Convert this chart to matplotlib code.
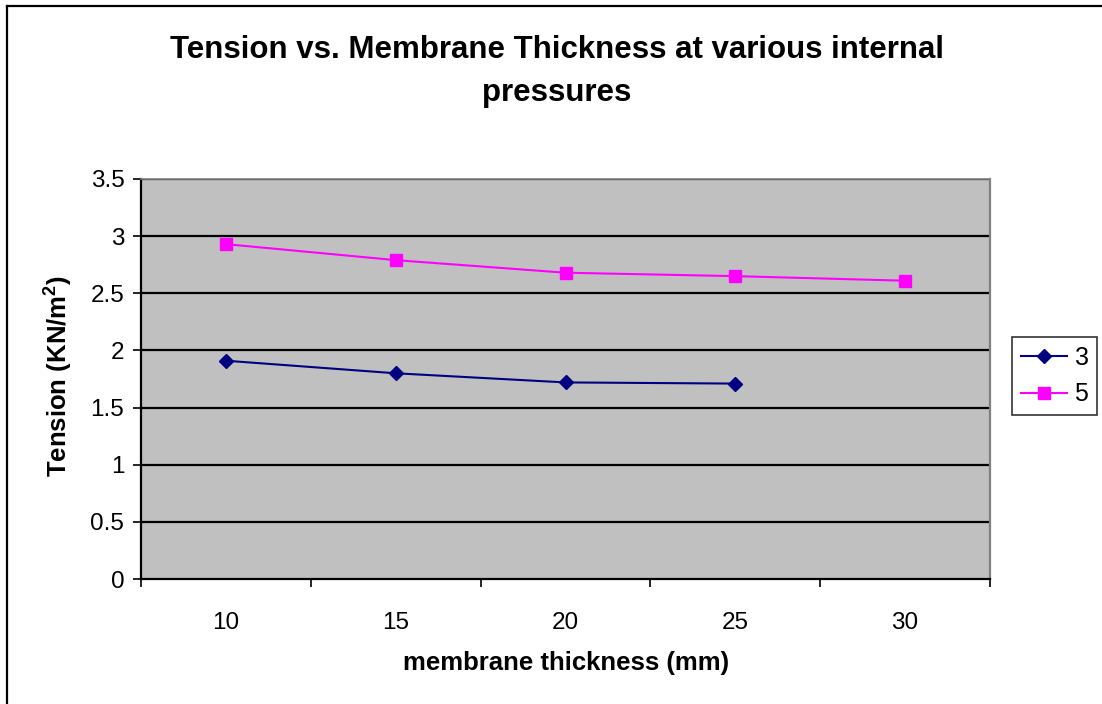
import matplotlib
matplotlib.use("Agg")
import matplotlib.pyplot as plt
from matplotlib.lines import Line2D

plt.rcParams['font.family'] = ['Liberation Sans', 'DejaVu Sans']
plt.rcParams['mathtext.fontset'] = 'custom'
plt.rcParams['mathtext.rm'] = 'Liberation Sans'
plt.rcParams['mathtext.bf'] = 'Liberation Sans:bold'

categories = ["10", "15", "20", "25", "30"]
series_names = ["3", "5"]
values_3 = [1.91, 1.80, 1.72, 1.71]
values_5 = [2.93, 2.79, 2.68, 2.65, 2.61]
y_ticks = [0, 0.5, 1, 1.5, 2, 2.5, 3, 3.5]
y_tick_labels = ["0", "0.5", "1", "1.5", "2", "2.5", "3", "3.5"]

W, H = 1102, 704
fig = plt.figure(figsize=(W / 100, H / 100), dpi=100)
fig.patch.set_facecolor('white')

# outer chart border (left and top visible)
fig.add_artist(Line2D([7 / W, 7 / W], [0, 1 - 6 / H], transform=fig.transFigure, color='black', lw=1.6))
fig.add_artist(Line2D([7 / W, 1], [1 - 6 / H, 1 - 6 / H], transform=fig.transFigure, color='black', lw=1.6))

ax = fig.add_axes([141 / W, 1 - 579 / H, (990 - 141) / W, 400 / H])
ax.set_facecolor('#C0C0C0')

x3 = list(range(len(values_3)))
x5 = list(range(len(values_5)))
ax.plot(x3, values_3, color='#000080', marker='D', markersize=7.5, lw=1.5, label=series_names[0], zorder=3)
ax.plot(x5, values_5, color='#FF00FF', marker='s', markersize=8, lw=1.5, label=series_names[1], zorder=3)

ax.set_xlim(-0.5, len(categories) - 0.5)
ax.set_ylim(0, 3.5)
ax.set_yticks(y_ticks)
ax.set_yticklabels(y_tick_labels, fontsize=17.5)
ax.set_xticks([i - 0.5 for i in range(len(categories) + 1)])
ax.set_xticklabels([])
ax.set_xticks(range(len(categories)), minor=True)
ax.set_xticklabels(categories, minor=True, fontsize=17.5)
ax.tick_params(axis='x', which='minor', length=0, pad=24)
ax.tick_params(axis='x', which='major', length=6, width=1.2, direction='out')
ax.tick_params(axis='y', length=6, width=1.2, direction='out', pad=6)

for y in y_ticks[1:]:
    ax.axhline(y, color='black', lw=1.6, zorder=1)

ax.spines['left'].set_color('black')
ax.spines['left'].set_linewidth(1.6)
ax.spines['bottom'].set_color('black')
ax.spines['bottom'].set_linewidth(1.6)
ax.spines['top'].set_color('#808080')
ax.spines['right'].set_color('#808080')
ax.spines['top'].set_linewidth(1.2)
ax.spines['right'].set_linewidth(1.6)

fig.text(557 / W, 1 - 50 / H, "Tension vs. Membrane Thickness at various internal",
         ha='center', va='center', fontsize=22.5, fontweight='bold')
fig.text(557 / W, 1 - 93 / H, "pressures",
         ha='center', va='center', fontsize=22.5, fontweight='bold')

fig.text(566 / W, 1 - 663 / H, "membrane thickness (mm)", ha='center', va='center',
         fontsize=18.5, fontweight='bold')
fig.text(58 / W, 1 - 376 / H, r"Tension (KN/m$^{\mathbf{2}}$)", ha='center', va='center',
         rotation=90, fontsize=18.5, fontweight='bold')

leg = fig.legend(loc='center left', bbox_to_anchor=(1012 / W, 1 - 376 / H),
                 fontsize=18, frameon=True, fancybox=False, edgecolor='black',
                 handlelength=1.85, handletextpad=0.3, borderpad=0.35, labelspacing=0.5,
                 borderaxespad=0)
leg.get_frame().set_linewidth(1.2)

fig.savefig("out.png", dpi=100, facecolor='white')
